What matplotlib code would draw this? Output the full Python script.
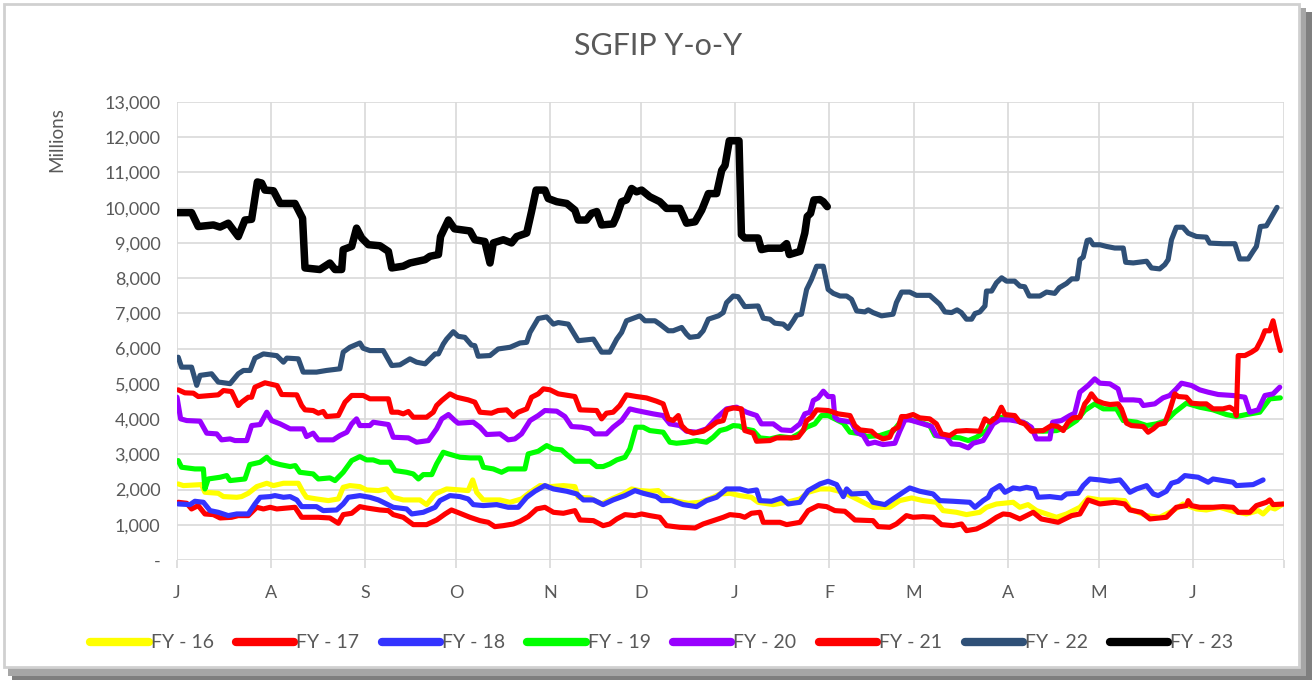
import matplotlib
matplotlib.use("Agg")
import matplotlib.pyplot as plt
from matplotlib.patches import Rectangle
from matplotlib.ticker import FuncFormatter

plt.rcParams['font.family'] = ['Lato', 'DejaVu Sans']

# x = days since 1 July of the fiscal year
month_starts = [0, 31, 62, 92, 123, 153, 184, 215, 243, 274, 304, 335, 365]
month_labels = ["J", "A", "S", "O", "N", "D", "J", "F", "M", "A", "M", "J", ""]

fy16_d = [0.4, 2.1, 8.1, 9.2, 13.6, 15.3, 19.7, 21.3, 23.5, 26.3, 29.6, 31.8, 35.1, 40, 41.6, 42.7, 46, 49.9, 53.2, 54.8, 57, 60.3, 62.5, 66.4, 69.1, 71.3, 74.6, 80.1, 82.3, 85.1, 88.9, 93.3, 96, 97.5, 98.8, 101, 106.5, 109.8, 113.6, 116.4, 119.7, 123, 127.4, 131.2, 132.3, 136.2, 140, 143.3, 147.1, 149.9, 152.6, 155.9, 158.7, 160.9, 164.7, 168.6, 172.4, 176.8, 179, 182.3, 185.6, 189.4, 191.6, 196.6, 201, 205.4, 208.1, 212, 215.3, 219.7, 223, 225.2, 229.5, 235, 238.3, 242.2, 246, 250.4, 252.6, 257, 260.3, 264.7, 266.9, 270.2, 275.7, 277.9, 280.6, 283.4, 286.7, 290, 293.3, 297.7, 300.4, 304.3, 308.7, 312.5, 314.2, 319.7, 324, 328.4, 331.7, 336.1, 339.4, 343.8, 348.2, 352.6, 356.5, 358.1, 360.3, 362, 364.7]
fy16_v = [2159, 2112, 2140, 1922, 1894, 1800, 1780, 1800, 1894, 2083, 2178, 2112, 2178, 2178, 1922, 1780, 1733, 1686, 1733, 2064, 2112, 2083, 1989, 1970, 2017, 1780, 1705, 1705, 1572, 1875, 2017, 1989, 1970, 2273, 1922, 1705, 1705, 1638, 1733, 1922, 2112, 2083, 2112, 2083, 1780, 1761, 1590, 1733, 1875, 2017, 1970, 1951, 1970, 1780, 1667, 1610, 1638, 1780, 1875, 1894, 1828, 1780, 1638, 1572, 1638, 1733, 1922, 2017, 2017, 1922, 1780, 1686, 1496, 1496, 1686, 1761, 1686, 1638, 1402, 1354, 1288, 1354, 1496, 1590, 1638, 1496, 1572, 1402, 1307, 1212, 1307, 1496, 1761, 1705, 1705, 1686, 1449, 1260, 1212, 1402, 1590, 1449, 1420, 1496, 1383, 1307, 1402, 1307, 1496, 1449, 1590]

fy17_d = [0.4, 3.2, 4.8, 7, 9.2, 12, 14.2, 18, 20.2, 23.5, 26.3, 28.5, 30.7, 32.9, 38.9, 41.1, 46.6, 50.4, 53.2, 54.8, 57.6, 60.3, 62.5, 66.9, 69.7, 71.3, 74.6, 77.9, 82.3, 85.6, 88.4, 90.5, 93.3, 96.6, 99.9, 102.6, 104.8, 107.6, 110.9, 113.1, 115.8, 118.6, 121.3, 124.1, 127.4, 131.2, 132.9, 137.3, 140.5, 142.7, 145, 147.7, 151, 153.2, 155.9, 159.2, 161.4, 165.8, 170.8, 173.5, 176.8, 180.1, 182.3, 185.6, 187.2, 189.4, 192.2, 193.3, 198.8, 201, 205.4, 208.1, 211.4, 214.2, 216.9, 220.2, 221.9, 223.5, 229.5, 231.2, 235, 237.2, 240.5, 242.7, 246, 249.3, 252.1, 255.9, 258.7, 260.3, 263.6, 266.9, 270.2, 272.4, 274.6, 277.9, 282.3, 285, 290.5, 295, 297.7, 300.4, 304.3, 309.2, 312.5, 314.2, 318, 320.8, 326.2, 329.5, 332.8, 333.4, 334.5, 337.2, 341.6, 344.9, 348.2, 349.9, 353.7, 355.9, 359.2, 360.3, 361.4, 364.9]
fy17_v = [1638, 1610, 1449, 1544, 1307, 1288, 1193, 1212, 1260, 1260, 1496, 1449, 1496, 1449, 1496, 1212, 1212, 1193, 1042, 1288, 1326, 1515, 1477, 1420, 1402, 1288, 1212, 1004, 1004, 1136, 1307, 1420, 1326, 1212, 1117, 1070, 947, 975, 1023, 1099, 1231, 1449, 1496, 1354, 1326, 1402, 1136, 1117, 975, 1023, 1165, 1288, 1260, 1307, 1260, 1212, 975, 928, 909, 1023, 1117, 1212, 1288, 1260, 1212, 1326, 1354, 1070, 1070, 1004, 1070, 1402, 1544, 1515, 1402, 1383, 1260, 1136, 1117, 947, 928, 1023, 1260, 1212, 1231, 1212, 1004, 975, 1023, 833, 881, 1023, 1212, 1307, 1288, 1165, 1354, 1165, 1070, 1260, 1307, 1705, 1591, 1638, 1591, 1420, 1354, 1165, 1212, 1496, 1544, 1686, 1544, 1496, 1496, 1515, 1496, 1354, 1354, 1544, 1638, 1705, 1572, 1590]

fy18_d = [0.4, 4.3, 5.9, 8.7, 10.9, 13.6, 16.9, 19.7, 23.5, 25.7, 27.4, 30.7, 32.3, 35.1, 37.3, 39.5, 41.1, 46, 48.2, 52.6, 54.8, 56.5, 60.3, 63.6, 66.4, 69.1, 71.3, 75.7, 77.4, 81.2, 85.1, 86.7, 90, 93.3, 96, 97.7, 101, 105.4, 109.2, 112.5, 115.3, 118, 121.3, 124.1, 128.5, 131.8, 134, 137.3, 140.5, 143.8, 147.7, 151, 153.7, 158.1, 159.8, 163.1, 166.9, 171.3, 174.6, 177.9, 181.2, 185.6, 188.3, 191.1, 192.2, 196, 199.3, 201.5, 205.4, 208.1, 212, 214.7, 217.5, 219.7, 220.8, 222.4, 227.4, 229.5, 233.4, 236.1, 239.4, 241.6, 244.9, 249.3, 251.5, 255.9, 261.4, 263.1, 265.8, 267.5, 268.6, 271.3, 273, 275.7, 277.9, 280.1, 282.8, 283.9, 287.8, 291.6, 293.3, 297.1, 298.8, 301, 304.3, 307.6, 310.9, 312.5, 314.2, 316.4, 319.7, 321.9, 323.5, 326.2, 327.9, 330.1, 332.3, 336.7, 340, 341.6, 344.9, 348.2, 349.3, 354.8, 358.1]
fy18_v = [1591, 1572, 1667, 1638, 1402, 1354, 1260, 1307, 1307, 1591, 1780, 1800, 1828, 1780, 1800, 1705, 1515, 1515, 1402, 1420, 1591, 1780, 1828, 1780, 1705, 1591, 1496, 1449, 1307, 1354, 1496, 1686, 1828, 1800, 1733, 1572, 1544, 1572, 1496, 1496, 1780, 1951, 2112, 2017, 1951, 1875, 1705, 1705, 1572, 1705, 1828, 1970, 1894, 1800, 1686, 1686, 1572, 1515, 1686, 1780, 2017, 2017, 1951, 1989, 1686, 1667, 1761, 1591, 1638, 1970, 2159, 2235, 2140, 1800, 2017, 1875, 1894, 1638, 1572, 1733, 1922, 2045, 1951, 1875, 1686, 1667, 1638, 1496, 1686, 1780, 1970, 2112, 1922, 2045, 2017, 2064, 2017, 1780, 1800, 1761, 1875, 1894, 2112, 2300, 2273, 2235, 2273, 2112, 1922, 2017, 2112, 1875, 1828, 1951, 2178, 2235, 2396, 2349, 2207, 2300, 2254, 2207, 2112, 2140, 2273]

fy19_d = [0.4, 1.5, 5.9, 8.7, 9.2, 10.3, 14.2, 16.4, 17.5, 22.4, 24, 27.4, 29.6, 31.2, 34, 37.3, 39, 40.5, 44.9, 46.6, 50.4, 52.1, 54.8, 57.6, 60.3, 62.5, 64.7, 66.9, 70.2, 71.9, 75.7, 77.9, 79.6, 81.2, 84, 85.6, 87.8, 89.5, 93.3, 96.6, 99.9, 101, 104.3, 107, 109.2, 114.7, 115.8, 119.1, 121.9, 124.1, 126.8, 128.5, 131.2, 136.2, 138.4, 140.5, 142.7, 145, 147.7, 149.3, 150.4, 151.3, 153.7, 155.9, 160.3, 162.5, 164.7, 168, 171.3, 174.6, 176.8, 179, 181.2, 183.4, 185.5, 187.2, 190, 192.2, 195.5, 198.8, 202.6, 205.4, 207.6, 210.3, 212.5, 214.7, 216.9, 219.7, 221.9, 225.7, 227.4, 231.7, 236.1, 238.9, 240.5, 244.9, 248.2, 249.9, 253.7, 258.1, 260.9, 263.6, 266.9, 269.1, 272, 276.8, 280.1, 282.3, 285.6, 290, 293.3, 296.6, 299.3, 302.6, 305.4, 309.8, 312, 316.4, 319.7, 322.9, 326.2, 329, 332.8, 337.2, 341.6, 346, 349.3, 352.6, 357, 360.3, 363.8]
fy19_v = [2822, 2633, 2585, 2585, 2017, 2300, 2349, 2396, 2254, 2300, 2708, 2775, 2917, 2775, 2708, 2652, 2680, 2490, 2443, 2300, 2330, 2254, 2490, 2822, 2936, 2841, 2841, 2775, 2775, 2538, 2490, 2443, 2300, 2424, 2424, 2727, 3059, 3011, 2917, 2898, 2898, 2633, 2585, 2490, 2585, 2585, 3011, 3087, 3248, 3153, 3125, 2993, 2803, 2803, 2652, 2652, 2727, 2841, 2917, 3153, 3485, 3769, 3769, 3674, 3627, 3343, 3314, 3343, 3390, 3343, 3485, 3674, 3722, 3816, 3800, 3722, 3674, 3466, 3437, 3504, 3466, 3600, 3769, 3864, 4100, 4100, 4006, 3883, 3627, 3580, 3504, 3532, 3655, 3958, 4006, 3911, 3816, 3532, 3504, 3466, 3390, 3485, 3674, 4006, 4050, 3958, 3864, 3674, 3655, 3674, 3769, 3958, 4243, 4432, 4290, 4290, 3958, 3911, 3816, 3864, 3958, 4195, 4450, 4337, 4262, 4129, 4072, 4129, 4195, 4574, 4602]

fy20_d = [0, 1.2, 3.2, 7.6, 9.8, 13.1, 14.7, 17.5, 19.1, 23, 24.6, 27.4, 29.6, 31.2, 34, 37.3, 41.6, 42.7, 44.9, 46.6, 51.5, 53.7, 56, 57.6, 59.2, 60.3, 63.6, 64.7, 69.7, 71.3, 76.3, 79, 82.9, 85.6, 87.3, 89.5, 91.6, 92.7, 97.7, 99.9, 102.1, 106.5, 109.2, 111.4, 113.6, 116.4, 119.1, 121.3, 125.2, 127.9, 130.1, 133.4, 136.2, 137.8, 141.6, 143.8, 146.6, 149.3, 151.5, 154.3, 157, 160.3, 162.5, 165.8, 168, 171.3, 174.6, 177.9, 181.2, 184.5, 187.8, 191.1, 192.7, 196.6, 199.3, 202.6, 205.4, 207, 208.7, 209.8, 211.4, 213.1, 214.7, 216.3, 216.9, 218, 222.4, 224.1, 226.3, 227.9, 230.1, 232.8, 236.7, 238.3, 240, 241.6, 246, 248.8, 250.4, 253.7, 255.4, 258.1, 260.9, 262.5, 265.8, 267.5, 269.1, 271.3, 274.6, 279, 281.7, 283.4, 287.8, 288.7, 291.6, 294.4, 296, 297.7, 300.4, 302.6, 304.3, 307.6, 310.3, 311.4, 315.3, 317.5, 318.6, 322.4, 325.1, 327.3, 329.5, 331.2, 334.5, 337.2, 340, 343.3, 348.2, 352.1, 353.7, 356.5, 358.7, 361.4, 363.6]
fy20_v = [4620, 4006, 3958, 3940, 3600, 3580, 3410, 3437, 3390, 3390, 3816, 3845, 4195, 3958, 3864, 3722, 3722, 3504, 3600, 3410, 3410, 3532, 3627, 3864, 4006, 3816, 3816, 3911, 3845, 3485, 3466, 3343, 3390, 3722, 4006, 4129, 3958, 3883, 3911, 3769, 3561, 3580, 3410, 3437, 3580, 3958, 4100, 4243, 4224, 4072, 3788, 3769, 3722, 3580, 3580, 3769, 3958, 4290, 4243, 4195, 4148, 4100, 3864, 3816, 3655, 3627, 3722, 4034, 4290, 4337, 4195, 4100, 3864, 3864, 3693, 3674, 3864, 4148, 4195, 4527, 4602, 4792, 4640, 4640, 4053, 3977, 3911, 3627, 3532, 3295, 3343, 3277, 3314, 3655, 3977, 3977, 3864, 3788, 3532, 3485, 3295, 3277, 3182, 3314, 3390, 3627, 3864, 3980, 3977, 3911, 3769, 3437, 3437, 3911, 3958, 4100, 4167, 4763, 4953, 5142, 5019, 5000, 4858, 4545, 4545, 4527, 4385, 4432, 4602, 4669, 4858, 5019, 4953, 4830, 4763, 4697, 4669, 4621, 4195, 4262, 4669, 4716, 4905]

fy21_d = [0.4, 2.6, 5.4, 7, 13.6, 15.3, 18, 20.2, 21.3, 23.5, 24.6, 25.7, 29, 31.8, 33, 34.5, 39.5, 41.1, 42.2, 44.9, 46.6, 48.2, 49.3, 53.2, 55.4, 57.6, 61.4, 63.6, 69.7, 70.8, 72.9, 74.6, 76.3, 77.9, 82.3, 84.5, 85.6, 87.3, 90, 92.2, 96, 98.2, 99.9, 103.7, 105.9, 108.7, 110.9, 112.5, 115.3, 116.9, 119.1, 120.8, 123, 125.7, 129, 131.2, 132.9, 138.4, 140, 141.6, 143.8, 146, 148.2, 151.5, 154.8, 158.1, 160.3, 162, 163.6, 165.3, 166.4, 168, 170.2, 173.5, 175.7, 177.9, 180.1, 181.2, 183.4, 186.1, 187.2, 190, 191.1, 195.5, 197.7, 202.6, 204.8, 206.5, 207.6, 209.2, 210.9, 214.7, 218, 221.9, 223.5, 225.2, 229, 230.6, 232.8, 235, 236.1, 237.8, 238.9, 240.5, 242.7, 244.9, 248.2, 250.4, 252.1, 254.8, 257, 260.3, 264.7, 266.4, 268, 270.2, 271.8, 273, 276.2, 277.9, 279.5, 281.7, 285.6, 288.3, 290.5, 292.2, 293.8, 295.5, 297.7, 299.3, 300.4, 301.5, 303.2, 305.4, 307.6, 310.3, 311.4, 313.1, 314.7, 318.6, 320.2, 321.9, 323.5, 325.7, 327.3, 329, 330.1, 332.8, 334.5, 337.2, 339.4, 341.6, 344.9, 347.1, 348.8, 349.3, 349.9, 352.1, 354.3, 355.9, 357.6, 358.7, 360.3, 361.4, 362.5, 363.8]
fy21_v = [4830, 4745, 4735, 4640, 4688, 4810, 4782, 4385, 4480, 4620, 4620, 4905, 5030, 4972, 4950, 4697, 4688, 4385, 4262, 4243, 4167, 4215, 4072, 4100, 4480, 4670, 4670, 4575, 4575, 4195, 4195, 4148, 4215, 4053, 4053, 4195, 4385, 4527, 4716, 4620, 4545, 4480, 4195, 4167, 4243, 4262, 4072, 4195, 4290, 4620, 4716, 4858, 4830, 4716, 4670, 4640, 4262, 4243, 4006, 4167, 4195, 4385, 4688, 4640, 4600, 4508, 4432, 4006, 3960, 4100, 3816, 3674, 3600, 3655, 3770, 3911, 3958, 4262, 4318, 4290, 3674, 3600, 3371, 3390, 3466, 3466, 3485, 3674, 3958, 4053, 4262, 4243, 4148, 4100, 3816, 3693, 3655, 3532, 3437, 3485, 3693, 3769, 4072, 4072, 4129, 4034, 4006, 3864, 3580, 3532, 3655, 3674, 3655, 4006, 3911, 4053, 4337, 4129, 4100, 3911, 3864, 3655, 3674, 3816, 3788, 3674, 3911, 4034, 4053, 4432, 4545, 4716, 4527, 4450, 4413, 4432, 4290, 3883, 3816, 3788, 3627, 3722, 3845, 3883, 4243, 4716, 4640, 4621, 4450, 4432, 4432, 4290, 4290, 4337, 4243, 4100, 5803, 5803, 5900, 5990, 6270, 6507, 6507, 6790, 6366, 5944]

fy22_d = [0.4, 1.5, 4.8, 6.5, 7.6, 11.4, 13.6, 17.5, 20.2, 21.9, 24.1, 25.7, 28.5, 32.9, 35.1, 36.2, 40, 41.6, 46, 49.3, 53.7, 54.8, 57, 60.3, 61.4, 63.6, 68, 70.8, 73.5, 76.8, 79, 81.8, 85.1, 86.2, 87.8, 88.9, 91.1, 92.7, 94.9, 97.1, 98.2, 99.3, 103.2, 105.9, 109.8, 113.1, 115.3, 116.4, 119.1, 121.9, 124.1, 125.7, 129, 132.3, 137.3, 140, 142.7, 145, 146.6, 148.2, 151, 152.6, 154.3, 157.6, 159.2, 162, 163.6, 166.4, 168, 169.1, 171.9, 173.5, 175.2, 176.8, 178.5, 180.1, 181.2, 183.4, 185, 187.2, 191.6, 193.3, 195.5, 197.1, 199.9, 201.5, 203.2, 204.3, 205.9, 207.6, 209.2, 210.9, 213.1, 214.7, 216.4, 218.6, 220.8, 222.4, 224.1, 226.8, 227.9, 229.5, 232.3, 236.1, 237.2, 238.9, 241.6, 243.8, 248.2, 251.5, 253.2, 255.4, 257.2, 258.6, 260.3, 262, 263.1, 264.7, 266.4, 266.9, 268.6, 270.2, 271.9, 273.5, 276.2, 277.9, 279.5, 281, 284.5, 286.7, 289.4, 290.9, 293.3, 295, 296.8, 297.7, 298.8, 300.1, 301, 302.1, 304.3, 306.5, 309.2, 312, 312.8, 315.3, 319.7, 321.3, 324, 325.7, 326.8, 327.9, 329.5, 331.7, 333.4, 336.1, 339.4, 340.5, 344.9, 348.8, 350.4, 353.2, 354.8, 355.9, 357.2, 359.2, 360.3, 362.7]
fy22_v = [5756, 5474, 5474, 4958, 5240, 5286, 5052, 5005, 5286, 5380, 5380, 5730, 5850, 5800, 5615, 5730, 5710, 5333, 5333, 5380, 5427, 5900, 6038, 6160, 6010, 5944, 5944, 5520, 5540, 5710, 5615, 5568, 5850, 5850, 6130, 6270, 6480, 6350, 6320, 6100, 6085, 5784, 5803, 5990, 6038, 6160, 6178, 6460, 6855, 6900, 6695, 6740, 6695, 6225, 6270, 5900, 5900, 6270, 6460, 6790, 6880, 6930, 6790, 6790, 6695, 6507, 6507, 6600, 6413, 6320, 6350, 6507, 6836, 6880, 6930, 7023, 7305, 7493, 7474, 7192, 7211, 6864, 6836, 6723, 6695, 6573, 6790, 6948, 6977, 7680, 7962, 8338, 8338, 7680, 7568, 7493, 7493, 7400, 7070, 7042, 7100, 7023, 6930, 6977, 7305, 7605, 7605, 7512, 7512, 7258, 7042, 7023, 7100, 7023, 6836, 6836, 6995, 7042, 7211, 7634, 7634, 7869, 8010, 7915, 7915, 7775, 7756, 7493, 7493, 7605, 7568, 7728, 7850, 7980, 7980, 8525, 8600, 9070, 9090, 8948, 8948, 8900, 8855, 8855, 8450, 8432, 8480, 8290, 8263, 8385, 8525, 9090, 9445, 9445, 9277, 9183, 9164, 8995, 8977, 8977, 8545, 8545, 8760, 8900, 9465, 9485, 9650, 10010]

fy23_d = [0, 4.8, 7, 12, 14.2, 16.9, 20.2, 22.4, 24.6, 26.5, 27.9, 29, 31.8, 34, 38.9, 41.4, 42.2, 47.1, 50.4, 52.1, 54.3, 54.8, 57.6, 59.2, 60.9, 63.1, 66.9, 69.7, 70.8, 74.6, 76.8, 81.8, 83.4, 86.2, 86.9, 89.5, 91.5, 96.6, 98.2, 101.5, 103.2, 104.3, 107.6, 110.3, 112, 115.3, 116.9, 118.4, 121.3, 122.4, 125.2, 128.5, 131.2, 132.3, 135, 136.7, 138.4, 140, 143.8, 144.9, 146.6, 148.2, 149.9, 151.5, 153.2, 155.9, 159.2, 161.4, 165.8, 168, 170.8, 173, 175.2, 177.9, 179.6, 180.7, 182.1, 185.3, 186.1, 187.2, 191.6, 192.7, 194.9, 199.3, 201, 201.9, 205.4, 207, 207.8, 208.9, 210, 212, 213.1, 214.4]
fy23_v = [9860, 9860, 9465, 9510, 9450, 9560, 9180, 9650, 9670, 10730, 10700, 10500, 10480, 10120, 10120, 9700, 8290, 8245, 8430, 8245, 8245, 8810, 8900, 9420, 9140, 8950, 8920, 8760, 8290, 8340, 8430, 8525, 8620, 8670, 9180, 9650, 9400, 9340, 9090, 9040, 8430, 9000, 9090, 9000, 9180, 9280, 9890, 10500, 10500, 10260, 10170, 10120, 9930, 9650, 9650, 9840, 9890, 9510, 9540, 9750, 10170, 10220, 10545, 10450, 10500, 10310, 10170, 9980, 9980, 9560, 9600, 9930, 10400, 10400, 11060, 11200, 11900, 11900, 9230, 9140, 9140, 8810, 8850, 8850, 8980, 8670, 8760, 9280, 9750, 9840, 10220, 10230, 10170, 10030]

series_names = ["FY - 16", "FY - 17", "FY - 18", "FY - 19", "FY - 20", "FY - 21", "FY - 22", "FY - 23"]
series_days = [fy16_d, fy17_d, fy18_d, fy19_d, fy20_d, fy21_d, fy22_d, fy23_d]
series_vals = [fy16_v, fy17_v, fy18_v, fy19_v, fy20_v, fy21_v, fy22_v, fy23_v]
colors = ["#FFFF00", "#FF0000", "#3333FF", "#00FF00", "#9900FF", "#FF0000", "#2F5077", "#000000"]
widths = [3.7, 3.7, 3.7, 3.7, 3.7, 3.7, 3.7, 5.4]

W, H = 1314, 681
fig = plt.figure(figsize=(W / 100, H / 100), dpi=100)
fig.patch.set_facecolor("white")

def fx(px):
    return px / W

def fy(py):
    return 1 - py / H

# chart frame with shadow
fig.patches.append(Rectangle((fx(12), fy(680)), fx(1312) - fx(12), fy(12) - fy(680),
                             transform=fig.transFigure, facecolor="#7F7F7F", edgecolor="none", zorder=0))
fig.patches.append(Rectangle((fx(8), fy(676)), fx(1306) - fx(8), fy(8) - fy(676),
                             transform=fig.transFigure, facecolor="#A6A6A6", edgecolor="none", zorder=0))
fig.patches.append(Rectangle((fx(4), fy(667)), fx(1299) - fx(4), fy(4) - fy(667),
                             transform=fig.transFigure, facecolor="white", edgecolor="#D0D0D0",
                             linewidth=2.0, zorder=1))

ax = fig.add_axes([fx(177), fy(560), fx(1284) - fx(177), fy(102) - fy(560)])
ax.set_facecolor("none")
ax.set_zorder(2)

for d, v, c, w, n in zip(series_days, series_vals, colors, widths, series_names):
    ax.plot(d, v, color=c, linewidth=w, label=n, solid_joinstyle="round", solid_capstyle="round")

ax.set_xlim(0, 365)
ax.set_ylim(0, 13000)
ax.set_xticks(month_starts)
ax.set_xticklabels(month_labels)
ax.set_yticks(range(0, 13001, 1000))
ax.yaxis.set_major_formatter(FuncFormatter(lambda v, p: "-" if v == 0 else f"{int(v):,}"))

ax.grid(True, color="#D9D9D9", linewidth=1.2)
ax.set_axisbelow(True)
for s in ax.spines.values():
    s.set_visible(False)
ax.tick_params(axis="y", length=0, pad=12, labelsize=13, labelcolor="#595959")
ax.tick_params(axis="x", length=6, width=1.2, color="#D9D9D9", pad=12, labelsize=13, labelcolor="#595959")

fig.text(fx(658), fy(46), "SGFIP Y-o-Y", ha="center", va="center", fontsize=22, color="#595959")
fig.text(fx(57), fy(140), "Millions", ha="center", va="center", rotation=90, fontsize=13.5, color="#595959")

leg = fig.legend(loc="center", bbox_to_anchor=(fx(662), fy(643)), ncol=8, frameon=False,
                 fontsize=14, handlelength=3.0, handletextpad=0.1, columnspacing=1.15,
                 labelcolor="#595959")
for line in leg.get_lines():
    line.set_linewidth(6.0)
    line.set_solid_capstyle("round")

fig.savefig("out.png", dpi=100)
